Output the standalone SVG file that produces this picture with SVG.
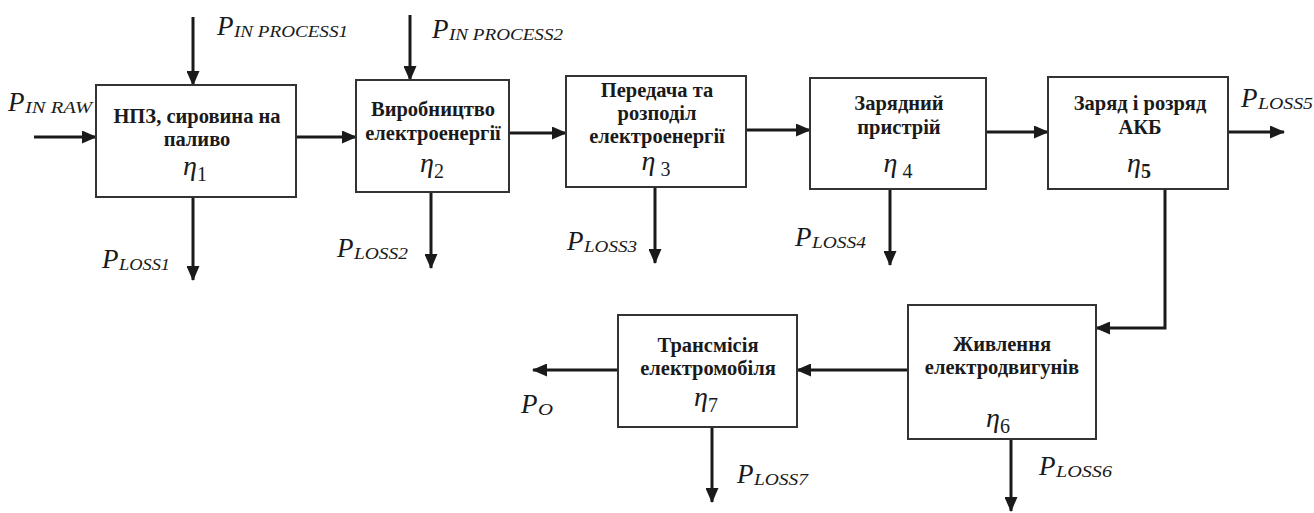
<svg xmlns="http://www.w3.org/2000/svg" width="1314" height="513" viewBox="0 0 1314 513">
<style>
.box{fill:#fff;stroke:#333;stroke-width:2}
.lbl{font-family:"Liberation Serif","Times New Roman",serif;font-weight:bold;font-size:20.5px;fill:#1a1a1a;text-anchor:middle}
.eta{font-family:"Liberation Serif","Times New Roman",serif;font-style:italic;font-size:28px;fill:#1a1a1a;text-anchor:middle}
.d{font-style:normal;font-size:20px}
.P{font-family:"Liberation Serif","Times New Roman",serif;font-style:italic;font-size:27px;fill:#1a1a1a}
.sub{font-family:"Liberation Serif","Times New Roman",serif;font-style:italic;font-size:16px;fill:#1a1a1a}
.arr{fill:none;stroke:#1a1a1a;stroke-width:3;marker-end:url(#ah)}
</style>
<defs>
<marker id="ah" markerUnits="userSpaceOnUse" markerWidth="15" markerHeight="13" refX="14" refY="6.5" orient="auto">
<path d="M0,0 L15,6.5 L0,13 z" fill="#1a1a1a"/>
</marker>
</defs>
<rect width="1314" height="513" fill="#fff"/>
<g id="connectors">
<line class="arr" x1="34" y1="137" x2="96" y2="137"/>
<line class="arr" x1="296" y1="137" x2="356" y2="137"/>
<line class="arr" x1="509" y1="133" x2="566" y2="133"/>
<line class="arr" x1="746" y1="130" x2="810" y2="130"/>
<line class="arr" x1="986" y1="132" x2="1048" y2="132"/>
<line class="arr" x1="1228" y1="132" x2="1284" y2="132"/>
<line class="arr" x1="193" y1="17" x2="193" y2="85"/>
<line class="arr" x1="410" y1="15" x2="410" y2="80"/>
<line class="arr" x1="193" y1="197" x2="193" y2="280"/>
<line class="arr" x1="431" y1="192" x2="431" y2="268"/>
<line class="arr" x1="655" y1="187" x2="655" y2="263"/>
<line class="arr" x1="890" y1="189" x2="890" y2="265"/>
<polyline class="arr" points="1165,189 1165,328 1096,328"/>
<line class="arr" x1="908" y1="370" x2="797" y2="370"/>
<line class="arr" x1="618" y1="370" x2="533" y2="370"/>
<line class="arr" x1="712" y1="427" x2="712" y2="502"/>
<line class="arr" x1="1011" y1="440" x2="1011" y2="511"/>
</g>
<g id="n1">
<rect class="box" x="96" y="85" width="200" height="112"/>
<text class="lbl" x="197" y="123">НПЗ, сировина на</text>
<text class="lbl" x="197" y="146">паливо</text>
<text class="eta" x="195" y="175">η<tspan class="d" dy="6">1</tspan></text>
</g>
<g id="n2">
<rect class="box" x="356" y="80" width="153" height="112"/>
<text class="lbl" x="433" y="116">Виробництво</text>
<text class="lbl" x="433" y="140">електроенергії</text>
<text class="eta" x="432" y="172">η<tspan class="d" dy="6">2</tspan></text>
</g>
<g id="n3">
<rect class="box" x="566" y="76" width="180" height="111"/>
<text class="lbl" x="657" y="97">Передача та</text>
<text class="lbl" x="657" y="120">розподіл</text>
<text class="lbl" x="657" y="143">електроенергії</text>
<text class="eta" x="656" y="170">η<tspan class="d" dy="6"> 3</tspan></text>
</g>
<g id="n4">
<rect class="box" x="810" y="78" width="176" height="111"/>
<text class="lbl" x="899" y="110">Зарядний</text>
<text class="lbl" x="899" y="134">пристрій</text>
<text class="eta" x="898" y="172">η<tspan class="d" dy="6"> 4</tspan></text>
</g>
<g id="n5">
<rect class="box" x="1048" y="77" width="180" height="112"/>
<text class="lbl" x="1140" y="110">Заряд і розряд</text>
<text class="lbl" x="1140" y="134">АКБ</text>
<text class="eta" x="1139" y="172">η<tspan class="d" dy="6" font-weight="bold">5</tspan></text>
</g>
<g id="n6">
<rect class="box" x="908" y="305" width="188" height="134"/>
<text class="lbl" x="1002" y="351">Живлення</text>
<text class="lbl" x="1002" y="374">електродвигунів</text>
<text class="eta" x="998" y="427">η<tspan class="d" dy="6">6</tspan></text>
</g>
<g id="n7">
<rect class="box" x="618" y="315" width="179" height="112"/>
<text class="lbl" x="708" y="352">Трансмісія</text>
<text class="lbl" x="708" y="375">електромобіля</text>
<text class="eta" x="706" y="406">η<tspan class="d" dy="6">7</tspan></text>
</g>
<g id="labels">
<text class="P" x="8" y="111">P</text><text class="sub" x="25" y="113" textLength="67" lengthAdjust="spacingAndGlyphs">IN RAW</text>
<text class="P" x="217" y="35">P</text><text class="sub" x="234" y="37" textLength="114" lengthAdjust="spacingAndGlyphs">IN PROCESS1</text>
<text class="P" x="432" y="38">P</text><text class="sub" x="449" y="40" textLength="114" lengthAdjust="spacingAndGlyphs">IN PROCESS2</text>
<text class="P" x="102" y="268">P</text><text class="sub" x="119" y="270" textLength="51" lengthAdjust="spacingAndGlyphs">LOSS1</text>
<text class="P" x="337" y="257">P</text><text class="sub" x="354" y="259" textLength="54" lengthAdjust="spacingAndGlyphs">LOSS2</text>
<text class="P" x="567" y="250">P</text><text class="sub" x="584" y="252" textLength="53" lengthAdjust="spacingAndGlyphs">LOSS3</text>
<text class="P" x="795" y="246">P</text><text class="sub" x="812" y="248" textLength="54" lengthAdjust="spacingAndGlyphs">LOSS4</text>
<text class="P" x="1241" y="107">P</text><text class="sub" x="1258" y="109" textLength="55" lengthAdjust="spacingAndGlyphs">LOSS5</text>
<text class="P" x="1039" y="475">P</text><text class="sub" x="1056" y="477" textLength="56" lengthAdjust="spacingAndGlyphs">LOSS6</text>
<text class="P" x="737" y="483">P</text><text class="sub" x="754" y="485" textLength="54" lengthAdjust="spacingAndGlyphs">LOSS7</text>
<text class="P" x="521" y="413">P</text><text class="sub" x="538" y="415" textLength="15" lengthAdjust="spacingAndGlyphs">O</text>
</g>
</svg>
